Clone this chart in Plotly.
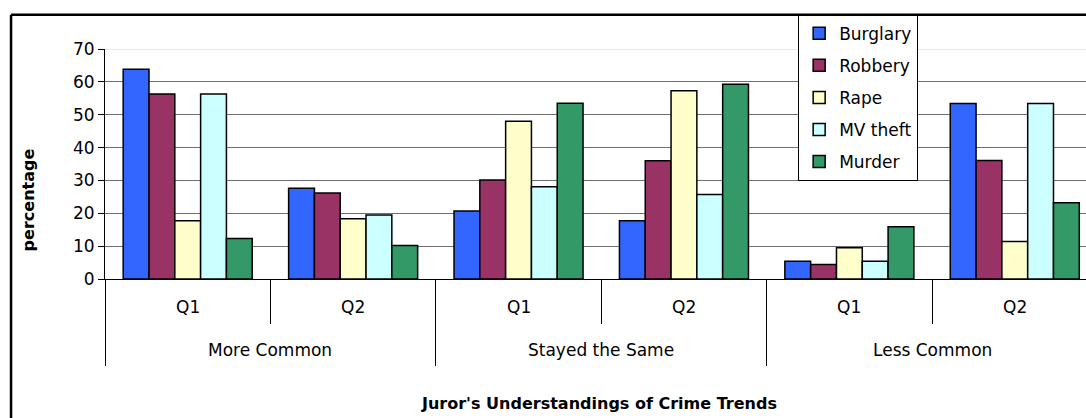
import plotly.graph_objects as go

# ---- data ----
groups = ["More Common", "Stayed the Same", "Less Common"]
quarters = ["Q1", "Q2"]
series_names = ["Burglary", "Robbery", "Rape", "MV theft", "Murder"]
burglary = [63.8, 27.6, 20.7, 17.7, 5.4, 53.4]
robbery = [56.3, 26.2, 30.1, 36.0, 4.4, 36.1]
rape = [17.7, 18.3, 48.0, 57.3, 9.5, 11.4]
mv_theft = [56.3, 19.5, 28.1, 25.7, 5.4, 53.4]
murder = [12.3, 10.2, 53.5, 59.3, 15.9, 23.2]
colors = ["#3366FF", "#993366", "#FFFFCC", "#CCFFFF", "#339966"]
y_ticks = [0, 10, 20, 30, 40, 50, 60, 70]

W, H = 1086, 418
L, T, B = 104.5, 48.5, 279.5  # plot area left, top, bottom in px
cat_w = 165.5
n_cat = len(groups) * len(quarters)
x_pos = list(range(n_cat))
x_max = -0.5 + (W - L) / cat_w

def px_x(p):
    return (p - L) / (W - L)

def px_y(p):
    return (B - p) / (B - T)

FONT = "DejaVu Sans"
FS = 17

fig = go.Figure()
for name, vals, col in zip(series_names, [burglary, robbery, rape, mv_theft, murder], colors):
    fig.add_trace(go.Bar(
        x=x_pos, y=vals, name=name, legendgroup=name,
        marker=dict(color=col, line=dict(color="black", width=1.5)),
    ))

annotations = []
for i in range(n_cat):
    annotations.append(dict(x=i, y=px_y(308), xref="x", yref="paper",
                            text=quarters[i % 2], showarrow=False,
                            font=dict(family=FONT, size=FS, color="black"),
                            xanchor="center", yanchor="middle"))
for g, name in enumerate(groups):
    annotations.append(dict(x=2 * g + 0.5, y=px_y(351), xref="x", yref="paper",
                            text=name, showarrow=False,
                            font=dict(family=FONT, size=FS, color="black"),
                            xanchor="center", yanchor="middle"))
annotations.append(dict(x=px_x(599), y=px_y(405), xref="paper", yref="paper",
                        text="<b>Juror's Understandings of Crime Trends</b>", showarrow=False,
                        font=dict(family=FONT, size=16, color="black"),
                        xanchor="center", yanchor="middle"))
annotations.append(dict(x=px_x(28), y=px_y(200), xref="paper", yref="paper",
                        text="<b>percentage</b>", showarrow=False, textangle=-90,
                        font=dict(family=FONT, size=16, color="black"),
                        xanchor="center", yanchor="middle"))
annotations.append(dict(x=px_x(17.8), y=px_y(1), xref="paper", yref="paper",
                        text="<b>Figure 3: Jurors' Beliefs about perceived prevalence of crime</b>",
                        showarrow=False,
                        font=dict(family="Liberation Serif", size=17.3, color="black"),
                        xanchor="left", yanchor="bottom"))

shapes = [
    # light top gridline at 70
    dict(type="line", xref="paper", yref="y", x0=0, x1=1, y0=70, y1=70,
         line=dict(color="#d4d4d4", width=1), layer="above"),
    # outer frame
    dict(type="line", xref="paper", yref="paper", x0=px_x(10.5), x1=px_x(10.5),
         y0=px_y(14), y1=px_y(440), line=dict(color="black", width=2.5)),
    dict(type="line", xref="paper", yref="paper", x0=px_x(10.5), x1=px_x(1110),
         y0=px_y(14), y1=px_y(14), line=dict(color="black", width=2.5)),
]

fig.update_layout(
    width=W, height=H,
    margin=dict(l=L, r=0, t=T, b=H - B, pad=0),
    paper_bgcolor="white", plot_bgcolor="white",
    barmode="group", bargap=0.22, bargroupgap=0,
    font=dict(family=FONT, size=FS, color="black"),
    showlegend=True,
    legend=dict(x=px_x(798), y=px_y(14), xanchor="left", yanchor="top",
                bgcolor="white", bordercolor="black", borderwidth=1,
                font=dict(family=FONT, size=FS, color="black"),
                tracegroupgap=7, traceorder="grouped", itemwidth=30),
    annotations=annotations,
    shapes=shapes,
)
fig.update_xaxes(
    range=[-0.5, x_max], showgrid=False, zeroline=False,
    showline=True, linecolor="black", linewidth=1,
    showticklabels=False,
    tickmode="array", tickvals=[-0.5, 1.5, 3.5, 5.5],
    ticks="outside", ticklen=86, tickcolor="black", tickwidth=1,
    minor=dict(tickmode="array", tickvals=[0.5, 2.5, 4.5], ticks="outside",
               ticklen=43.5, tickcolor="black", tickwidth=1, showgrid=False),
)
fig.update_yaxes(
    range=[0, 70], tickmode="array", tickvals=y_ticks,
    showgrid=True, gridcolor="#707070", gridwidth=1, zeroline=False,
    showline=True, linecolor="black", linewidth=1,
    ticks="outside", ticklen=6, tickcolor="black",
    tickfont=dict(family=FONT, size=FS, color="black"),
)

fig.write_html("out.html")
